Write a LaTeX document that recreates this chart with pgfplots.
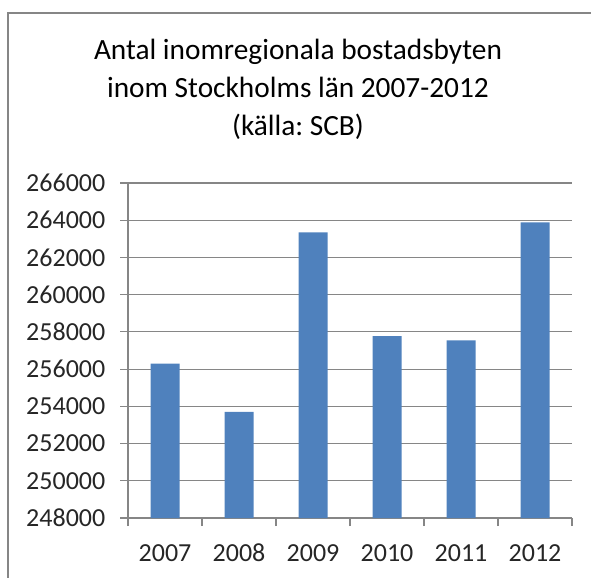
\documentclass[border=0pt]{standalone}
\usepackage{fontspec}
\setmainfont{Carlito}
\usepackage{pgfplots}
\pgfplotsset{compat=1.18}
\definecolor{barblue}{RGB}{79,129,189}
\definecolor{framegray}{RGB}{134,134,134}
\frenchspacing

\begin{document}
\begin{tikzpicture}
\useasboundingbox (0,0) rectangle (443.25pt,432.75pt);
% outer chart frame (right and bottom edges fall outside the crop)
\draw[framegray, line width=1.5pt] (6pt,-20pt) -- (6pt,423pt) -- (470pt,423pt);
\node[align=center, font=\fontsize{22}{28.5}\selectfont] at (223.5pt,366pt)
  {Antal inomregionala bostadsbyten\\inom Stockholms län 2007-2012\\(källa: SCB)};
\begin{axis}[
    at={(96pt,44.25pt)}, anchor=south west,
    scale only axis,
    width=333pt, height=251.25pt,
    ybar, bar width=21.75pt,
    xmin=-0.5, xmax=5.5,
    ymin=248000, ymax=266000,
    xtick={0,...,5},
    xticklabels={2007,2008,2009,2010,2011,2012},
    minor xtick={-0.5,0.5,...,5.5},
    ytick={248000,250000,...,266000},
    axis x line*=bottom, axis y line*=left,
    axis line style={draw=framegray, line width=0.8pt},
    tick align=outside,
    major tick length=6pt, minor tick length=6pt,
    major x tick style={draw=none},
    minor x tick style={draw=framegray, line width=0.8pt},
    ytick style={draw=framegray, line width=0.8pt},
    ymajorgrids,
    grid style={draw=framegray, line width=0.8pt},
    scaled y ticks=false,
    tick label style={font=\fontsize{19.5}{23}\selectfont, text=black!85},
    yticklabel style={xshift=-7.5pt},
    xticklabel style={anchor=base, yshift=-26.5pt},
    /pgf/number format/.cd, fixed, 1000 sep={}, assume math mode=true,
]
\addplot[fill=barblue, draw=none] coordinates {
    (0,256300) (1,253700) (2,263350) (3,257770) (4,257550) (5,263890)
};
\end{axis}
\end{tikzpicture}
\end{document}
